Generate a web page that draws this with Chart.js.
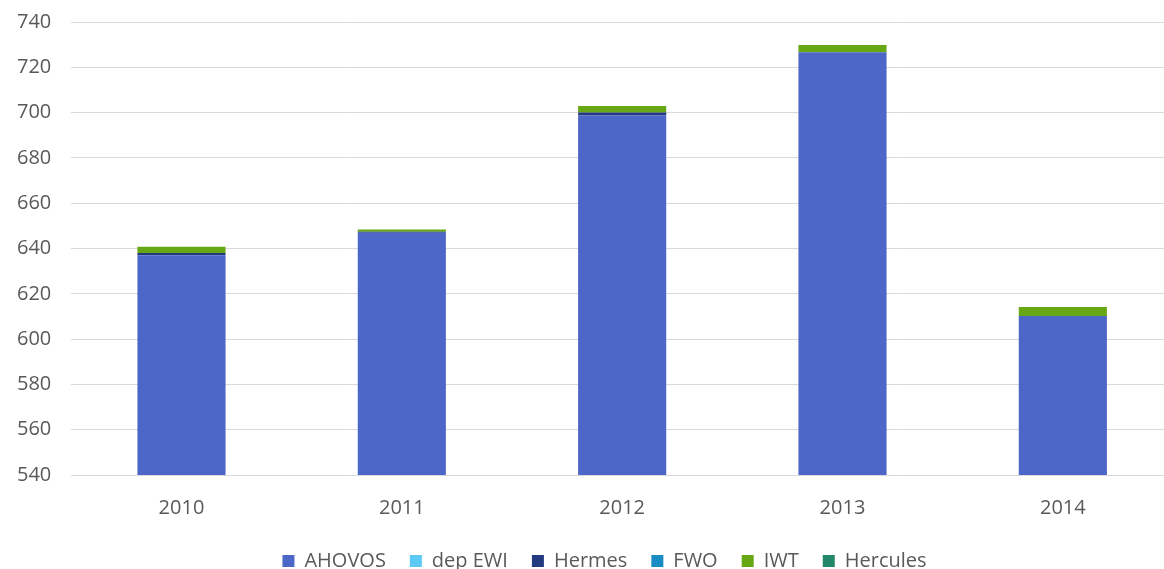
<!DOCTYPE html>
<html><head><meta charset="utf-8">
<script src="https://cdn.jsdelivr.net/npm/chart.js@4/dist/chart.umd.min.js"></script>
<style>html,body{margin:0;padding:0;background:#fff;overflow:hidden}canvas{display:block}</style>
</head><body>
<canvas id="c" width="1173" height="581"></canvas>
<script>
const years = ['2010','2011','2012','2013','2014'];
const ahovos = [637, 647, 698.7, 726.6, 610.2];
const depEwi = [0, 0, 0, 0, 0];
const hermes = [1, 0.4, 1.3, 0, 0];
const fwo = [0, 0, 0, 0, 0];
const iwt = [2.8, 1.0, 2.9, 3.2, 4.0];
const hercules = [0, 0, 0, 0, 0];
const yMin = 540, yMax = 740, yStep = 20;

const font = "'Open Sans', 'Noto Sans', sans-serif";
const legendShift = {
  id: 'legendShift',
  afterLayout(chart) {
    if (chart.legend) { chart.legend.left += 18; chart.legend.right += 18; }
  }
};
new Chart(document.getElementById('c'), {
  type: 'bar',
  data: {
    labels: years,
    datasets: [
      {label:'AHOVOS', data: ahovos, backgroundColor:'#4d67c8'},
      {label:'dep EWI', data: depEwi, backgroundColor:'#5bc8f5'},
      {label:'Hermes', data: hermes, backgroundColor:'#243a80'},
      {label:'FWO', data: fwo, backgroundColor:'#1a8cc4'},
      {label:'IWT', data: iwt, backgroundColor:'#67a714'},
      {label:'Hercules', data: hercules, backgroundColor:'#23876a'}
    ]
  },
  plugins: [legendShift],
  options: {
    responsive: false,
    animation: false,
    layout: {padding: {top: 0, left: 0, right: 0, bottom: 0}},
    datasets: {bar: {categoryPercentage: 1, barPercentage: 0.4}},
    plugins: {
      legend: {
        position: 'bottom',
        labels: {boxWidth: 12, boxHeight: 12, padding: 24, color: '#595959', font: {family: font, size: 20}}
      },
      tooltip: {enabled: false}
    },
    scales: {
      x: {
        stacked: true,
        grid: {display: false},
        border: {display: false},
        ticks: {color: '#595959', font: {family: font, size: 20}, padding: 13},
        afterFit: (s) => { s.height -= 6; }
      },
      y: {
        stacked: true,
        min: yMin, max: yMax,
        grid: {color: '#d9d9d9', drawTicks: false},
        border: {display: false},
        ticks: {stepSize: yStep, color: '#595959', font: {family: font, size: 20}, padding: 20},
        afterFit: (s) => { s.width -= 3; s.paddingTop = 22; }
      }
    }
  }
});
</script>
</body></html>
